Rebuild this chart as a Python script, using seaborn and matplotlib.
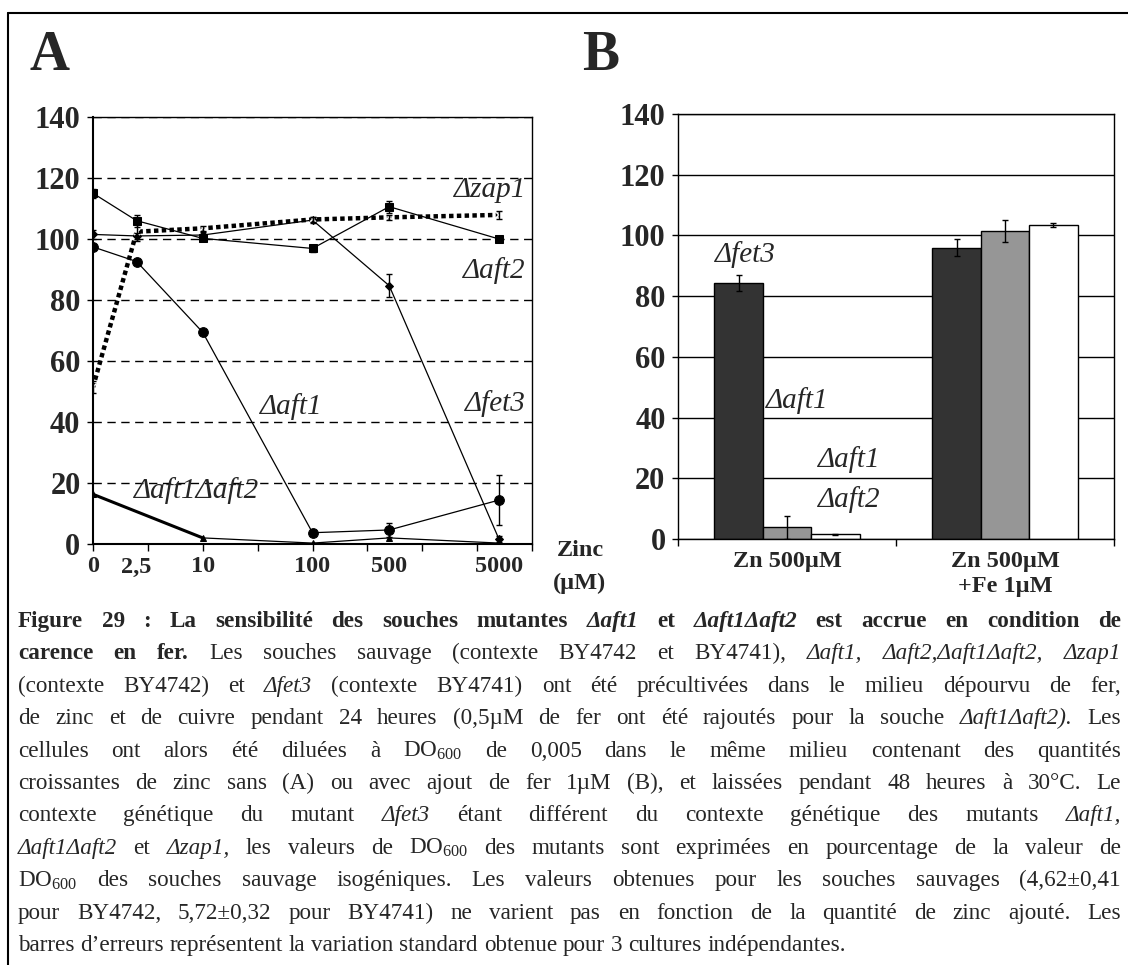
import numpy as np
import pandas as pd
import matplotlib.pyplot as plt
import seaborn as sns
from matplotlib.lines import Line2D
from matplotlib.ticker import FixedLocator, NullFormatter

# panel A : zinc gradient ("0" is drawn at 1 on the log axis)
zinc_labels = ["0", "2,5", "10", "100", "500", "5000"]
zinc_pos = [1, 2.5, 10, 100, 500, 5000]

aft2 = [115.0, 106.0, 100.2, 96.9, 110.6, 100.0]
aft2_err = [1.5, 2.0, 1.0, 1.0, 2.0, 1.0]
zap1 = [51.4, 102.4, 103.5, 106.4, 107.1, 107.9]
zap1_err = [2.0, 3.0, 0.8, 0.8, 0.8, 1.2]
fet3 = [101.5, 101.0, 101.3, 106.2, 84.7, 1.6]
fet3_err = [1.5, 1.0, 1.0, 1.0, 3.8, 1.0]
aft1 = [97.4, 92.6, 69.4, 3.7, 4.6, 14.4]
aft1_err = [1.0, 1.0, 1.0, 1.0, 2.2, 8.2]
aft1aft2_pos = [1, 10, 100, 500, 5000]
aft1aft2 = [16.3, 2.0, 0.3, 2.0, 0.3]

# panel B
conditions = ["Zn 500µM", "Zn 500µM\n+Fe 1µM"]
strains = ["Δfet3", "Δaft1", "Δaft1Δaft2"]
b_fet3 = [84.4, 96.0]
b_fet3_err = [2.6, 2.8]
b_aft1 = [3.9, 101.4]
b_aft1_err = [3.8, 3.7]
b_aft1aft2 = [1.6, 103.5]
b_aft1aft2_err = [0.2, 0.75]
bar_colors = ["#333333", "#969696", "#ffffff"]

# caption: "*" = bold word, "~" = italic word, first line all bold
caption_lines = [
    "Figure 29 : La sensibilité des souches mutantes ~Δaft1 et ~Δaft1Δaft2 est accrue en condition de",
    "*carence *en *fer. Les souches sauvage (contexte BY4742 et BY4741), ~Δaft1, ~Δaft2,Δaft1Δaft2, ~Δzap1",
    "(contexte BY4742) et ~Δfet3 (contexte BY4741) ont été précultivées dans le milieu dépourvu de fer,",
    "de zinc et de cuivre pendant 24 heures (0,5µM de fer ont été rajoutés pour la souche ~Δaft1Δaft2). Les",
    "cellules ont alors été diluées à DO$_{600}$ de 0,005 dans le même milieu contenant des quantités",
    "croissantes de zinc sans (A) ou avec ajout de fer 1µM (B), et laissées pendant 48 heures à 30°C. Le",
    "contexte génétique du mutant ~Δfet3 étant différent du contexte génétique des mutants ~Δaft1,",
    "~Δaft1Δaft2 et ~Δzap1, les valeurs de DO$_{600}$ des mutants sont exprimées en pourcentage de la valeur de",
    "DO$_{600}$ des souches sauvage isogéniques. Les valeurs obtenues pour les souches sauvages (4,62±0,41",
    "pour BY4742, 5,72±0,32 pour BY4741) ne varient pas en fonction de la quantité de zinc ajouté. Les",
    "barres d’erreurs représentent la variation standard obtenue pour 3 cultures indépendantes.",
]

sns.set_style("white")
plt.rcParams['font.family'] = ['Liberation Serif', 'DejaVu Serif']
plt.rcParams['mathtext.fontset'] = 'custom'
plt.rcParams['mathtext.rm'] = 'Liberation Serif'
plt.rcParams['mathtext.it'] = 'Liberation Serif:italic'
plt.rcParams['mathtext.bf'] = 'Liberation Serif:bold'
plt.rcParams['mathtext.default'] = 'regular'

W, H = 1128, 965
fig = plt.figure(figsize=(W / 100, H / 100), dpi=100)
fig.patch.set_facecolor("white")

def fig_rect(l, t, r, b):
    return [l / W, 1 - b / H, (r - l) / W, (b - t) / H]

lab_font = dict(fontsize=21, fontstyle="italic")

# ---------------- panel A
axA = fig.add_axes(fig_rect(93, 117, 532, 544))
axA.set_xscale("log")
axA.set_xlim(1, 10000)
axA.set_ylim(0, 140)
axA.yaxis.grid(True, color="k", lw=1, ls=(0, (6, 4)))
axA.set_axisbelow(True)

sns.lineplot(x=zinc_pos, y=aft2, ax=axA, color="k", lw=0.9, marker="s", markersize=6,
             markeredgecolor="k", zorder=3)
sns.lineplot(x=zinc_pos, y=fet3, ax=axA, color="k", lw=0.9, marker="D", markersize=4.5,
             markeredgecolor="k", zorder=3)
sns.lineplot(x=zinc_pos, y=aft1, ax=axA, color="k", lw=0.9, marker="o", markersize=7,
             markeredgecolor="k", zorder=3)
sns.lineplot(x=aft1aft2_pos, y=aft1aft2, ax=axA, color="k", lw=0.9, marker="^", markersize=5,
             markeredgecolor="k", zorder=3)
sns.lineplot(x=aft1aft2_pos[:2], y=aft1aft2[:2], ax=axA, color="k", lw=2.2, zorder=3)
sns.lineplot(x=zinc_pos, y=zap1, ax=axA, color="k", lw=3.2, linestyle=(0, (1, 0.75)),
             marker="x", markersize=5, markeredgewidth=1.2, zorder=4)

for ys, es in [(aft2, aft2_err), (fet3, fet3_err), (aft1, aft1_err), (zap1, zap1_err)]:
    axA.errorbar(zinc_pos, ys, yerr=es, fmt="none", ecolor="k", elinewidth=1, capsize=2.5, zorder=5)

axA.set_xticks(zinc_pos, zinc_labels)
axA.xaxis.set_minor_locator(FixedLocator(10 ** (np.arange(0, 9) / 2)))
axA.xaxis.set_minor_formatter(NullFormatter())
axA.xaxis.remove_overlapping_locs = False
axA.tick_params(axis="x", which="major", length=0, pad=9, labelsize=17.5)
axA.tick_params(axis="x", which="minor", length=5, width=1, direction="out", color="k")
for t in axA.get_xticklabels():
    t.set_fontweight("bold")
axA.set_yticks(range(0, 141, 20))
axA.tick_params(axis="y", length=4, width=1, direction="out", color="k", pad=5, labelsize=22)
for t in axA.get_yticklabels():
    t.set_fontweight("bold")
axA.tick_params(left=True, bottom=True, which="both")
for s in axA.spines.values():
    s.set_color("k")
    s.set_linewidth(1)
axA.spines["left"].set_linewidth(1.5)
axA.spines["bottom"].set_linewidth(1.5)
axA.set_xlabel("")
axA.set_ylabel("")

axA.text(8800, 116, "Δzap1", ha="right", va="center", **lab_font)
axA.text(8800, 89.8, "Δaft2", ha="right", va="center", **lab_font)
axA.text(8800, 46, "Δfet3", ha="right", va="center", **lab_font)
axA.text(64.5, 45, "Δaft1", ha="center", va="center", **lab_font)
axA.text(8.8, 17.5, "Δaft1Δaft2", ha="center", va="center", **lab_font)

fig.text(557 / W, 1 - 551 / H, "Zinc", ha="left", va="center", fontsize=17.5, fontweight="bold")
fig.text(553 / W, 1 - 583 / H, "(µM)", ha="left", va="center", fontsize=17.5, fontweight="bold")

# ---------------- panel B
axB = fig.add_axes(fig_rect(678, 114, 1114, 539))
df_b = pd.DataFrame({
    "condition": conditions * 3,
    "strain": np.repeat(strains, 2),
    "value": b_fet3 + b_aft1 + b_aft1aft2,
})
sns.barplot(data=df_b, x="condition", y="value", hue="strain", palette=bar_colors,
            saturation=1, width=0.667, edgecolor="k", linewidth=1, errorbar=None,
            legend=False, ax=axB, zorder=2)
for cont, errs in zip(axB.containers, [b_fet3_err, b_aft1_err, b_aft1aft2_err]):
    for bar, e in zip(cont, errs):
        axB.errorbar(bar.get_x() + bar.get_width() / 2, bar.get_height(), yerr=e,
                     fmt="none", ecolor="k", elinewidth=1, capsize=2.5, zorder=4)
axB.set_ylim(0, 140)
axB.set_xlim(-0.5, 1.5)
axB.yaxis.grid(True, color="k", lw=1)
axB.set_axisbelow(True)
axB.set_yticks(range(0, 141, 20))
axB.tick_params(axis="y", length=4, width=1, direction="out", color="k", pad=5, labelsize=22, left=True)
for t in axB.get_yticklabels():
    t.set_fontweight("bold")
axB.xaxis.set_minor_locator(FixedLocator([-0.5, 0.5, 1.5]))
axB.tick_params(axis="x", which="major", length=0, pad=9, labelsize=17.5)
axB.tick_params(axis="x", which="minor", length=5, width=1, direction="out", color="k", bottom=True)
for t in axB.get_xticklabels():
    t.set_fontweight("bold")
    t.set_linespacing(1.2)
for s in axB.spines.values():
    s.set_color("k")
    s.set_linewidth(1)
axB.set_xlabel("")
axB.set_ylabel("")

axB.text(-0.19, 93.7, "Δfet3", ha="center", va="center", **lab_font)
axB.text(0.046, 45.5, "Δaft1", ha="center", va="center", **lab_font)
axB.text(0.284, 26.3, "Δaft1", ha="center", va="center", **lab_font)
axB.text(0.284, 13, "Δaft2", ha="center", va="center", **lab_font)

# panel letters
fig.text(30 / W, 1 - 70 / H, "A", ha="left", va="baseline", fontsize=40, fontweight="bold")
fig.text(582 / W, 1 - 70 / H, "B", ha="left", va="baseline", fontsize=40, fontweight="bold")

# frame (left and top edges only)
fig.add_artist(Line2D([8 / W, 8 / W], [0, 1 - 13 / H], color="k", lw=1.5, transform=fig.transFigure))
fig.add_artist(Line2D([8 / W, 1], [1 - 13 / H, 1 - 13 / H], color="k", lw=1.5, transform=fig.transFigure))

# ---------------- caption, justified
renderer = fig.canvas.get_renderer()
cap_size = 16.7
left, right = 18, 1121
for i, line in enumerate(caption_lines):
    y = 1 - (627 + 32.4 * i) / H
    toks = []
    for tok in line.split(" "):
        weight = "bold" if (i == 0 or tok.startswith("*")) else "normal"
        tok = tok.lstrip("*")
        style = "normal"
        if tok.startswith("~"):
            style = "italic"
            tok = tok[1:]
        toks.append((tok, weight, style))
    size = cap_size
    while True:
        words = [fig.text(0, y, t, ha="left", va="baseline", fontsize=size,
                          fontweight=wt, fontstyle=st) for t, wt, st in toks]
        widths = [w.get_window_extent(renderer).width for w in words]
        space = size * 100 / 72 * 0.25
        if sum(widths) + space * (len(words) - 1) <= right - left or size < 12:
            break
        for w in words:
            w.remove()
        size -= 0.3
    if i == len(caption_lines) - 1:
        gap = space
    else:
        gap = (right - left - sum(widths)) / (len(words) - 1)
    x = left
    for w, wd in zip(words, widths):
        w.set_x(x / W)
        x += wd + gap

fig.savefig("out.png", dpi=100)
